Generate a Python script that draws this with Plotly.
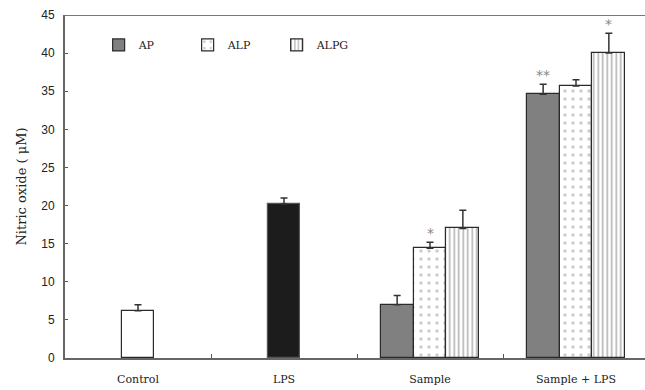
import plotly.graph_objects as go

categories = ["Control", "LPS", "Sample", "Sample + LPS"]
control_val = [6.2]
control_err = [0.8]
lps_val = [20.2]
lps_err = [0.8]
series_names = ["AP", "ALP", "ALPG"]
ap_val = [7.0, 34.6]
ap_err = [1.2, 1.3]
alp_val = [14.4, 35.7]
alp_err = [0.8, 0.8]
alpg_val = [17.0, 40.0]
alpg_err = [2.4, 2.6]
ap_marks = ["", "**"]
alp_marks = ["*", ""]
alpg_marks = ["", "*"]
y_ticks = [0, 5, 10, 15, 20, 25, 30, 35, 40, 45]

centers = [i + 0.5 for i in range(len(categories))]
bw = 0.225
edge = "#2a2a2a"
serif = "DejaVu Serif, serif"
narrow = "Liberation Sans Narrow, Liberation Sans, sans-serif"

def err(arr):
    return dict(type="data", array=arr, arrayminus=[0] * len(arr), symmetric=False,
                color="#333333", thickness=1.5, width=3.5)

fig = go.Figure()
fig.add_bar(x=[centers[0]], y=control_val, width=bw, showlegend=False,
            marker=dict(color="white", line=dict(color=edge, width=1.2)),
            error_y=err(control_err))
fig.add_bar(x=[centers[1]], y=lps_val, width=bw, showlegend=False,
            marker=dict(color="#1c1c1c", line=dict(color="#555555", width=1.2)),
            error_y=err(lps_err))

grp_x = [centers[2], centers[3]]
fig.add_bar(x=[c - bw for c in grp_x], y=ap_val, width=bw, name=series_names[0],
            marker=dict(color="#808080", line=dict(color=edge, width=1.2)),
            error_y=err(ap_err))
fig.add_bar(x=grp_x, y=alp_val, width=bw, name=series_names[1],
            marker=dict(color="white", line=dict(color=edge, width=1.2),
                        pattern=dict(shape=".", fgcolor="#999999", bgcolor="white",
                                     size=8, solidity=0.14, fillmode="overlay")),
            error_y=err(alp_err))
fig.add_bar(x=[c + bw for c in grp_x], y=alpg_val, width=bw, name=series_names[2],
            marker=dict(color="white", line=dict(color=edge, width=1.2),
                        pattern=dict(shape="|", fgcolor="#666666", bgcolor="white",
                                     size=4.5, solidity=0.35, fillmode="overlay")),
            error_y=err(alpg_err))

# significance marks
for offs, vals, errs, marks in [(-bw, ap_val, ap_err, ap_marks),
                                (0, alp_val, alp_err, alp_marks),
                                (bw, alpg_val, alpg_err, alpg_marks)]:
    for c, v, e, m in zip(grp_x, vals, errs, marks):
        if m:
            fig.add_annotation(x=c + offs, y=v + e, text=m, showarrow=False,
                               yanchor="bottom", yshift=-1,
                               font=dict(family="DejaVu Sans", size=14, color="#888888"))

fig.add_shape(type="line", xref="paper", yref="y", x0=0, x1=1, y0=45, y1=45,
              line=dict(color="#777777", width=2))

xmax = 4 * 580 / 584
fig.update_layout(
    width=645, height=390,
    margin=dict(l=65, r=0, t=15, b=32),
    paper_bgcolor="white", plot_bgcolor="white",
    barmode="overlay", bargap=0,
    legend=dict(orientation="h", x=0.058, y=0.955, xanchor="left", yanchor="top",
                font=dict(family=serif, size=11, color="#222222"),
                itemwidth=30, entrywidth=44, entrywidthmode="pixels",
                bgcolor="rgba(0,0,0,0)", tracegroupgap=0),
    xaxis=dict(range=[0, xmax], tickvals=centers, ticktext=categories, ticks="",
               showline=True, linecolor="#666666", linewidth=2, showgrid=False,
               zeroline=False, ticklabelstandoff=10,
               tickfont=dict(family=serif, size=11, color="#222222"),
               minor=dict(tickvals=[1, 2, 3], ticks="inside", ticklen=4,
                          tickcolor="#555555", tickwidth=1, showgrid=False)),
    yaxis=dict(range=[0, 45], tickvals=y_ticks, ticks="inside", ticklen=3,
               tickcolor="#555555", showline=True, linecolor="#666666", linewidth=2,
               showgrid=False, zeroline=False, ticklabelstandoff=6,
               tickfont=dict(family=narrow, size=12, color="#222222"),
               title=dict(text="Nitric oxide ( μM)", standoff=12,
                          font=dict(family=serif, size=13, color="#222222"))),
)

fig.write_html("out.html")
